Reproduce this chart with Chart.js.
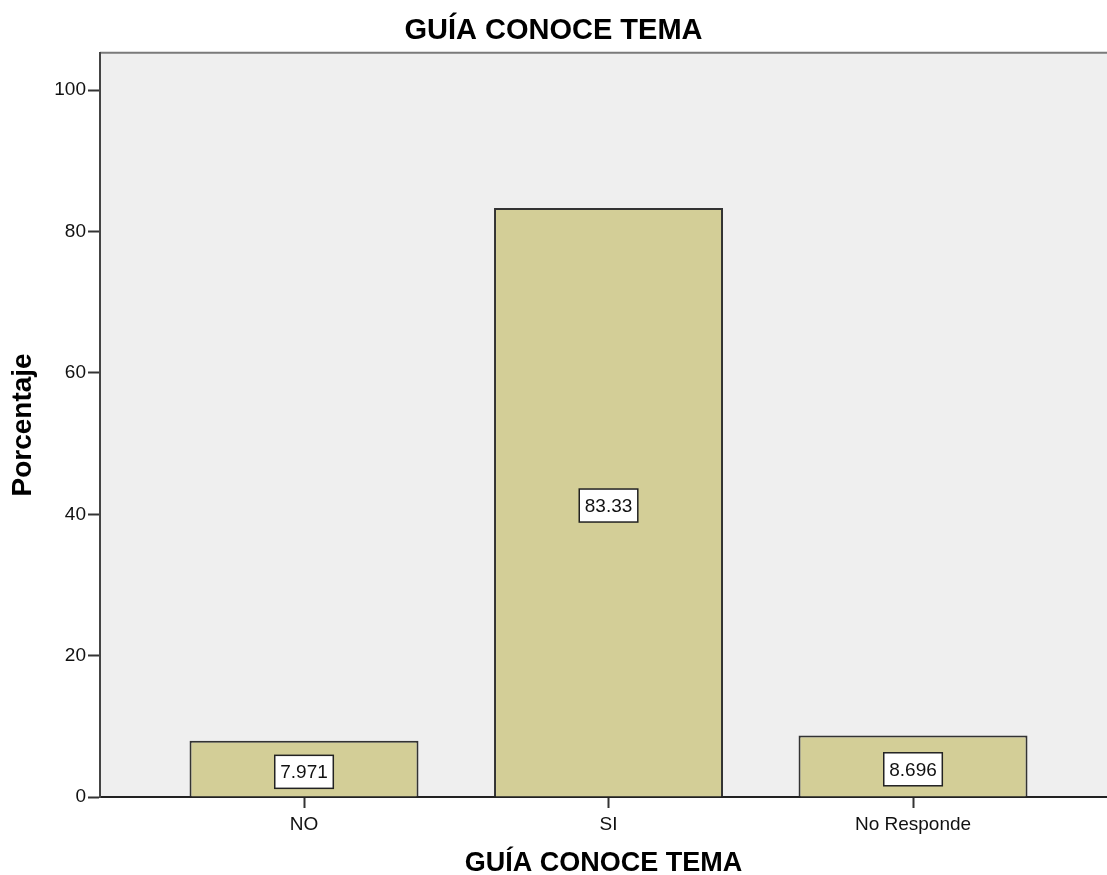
<!DOCTYPE html>
<html>
<head>
<meta charset="utf-8">
<script src="https://cdn.jsdelivr.net/npm/chart.js@4.4.1/dist/chart.umd.min.js"></script>
<style>
  html, body { margin: 0; padding: 0; background: #ffffff; overflow: hidden; }
  #wrap { width: 1107px; height: 875px; position: relative; }
</style>
</head>
<body>
<div id="wrap"><canvas id="c" width="1107" height="875"></canvas></div>
<script>
const chartTitle = 'GUÍA CONOCE TEMA';
const xAxisTitle = 'GUÍA CONOCE TEMA';
const yAxisTitle = 'Porcentaje';
const categories = ['NO', 'SI', 'No Responde'];
const percentages = [7.971, 83.33, 8.696];
const valueLabels = ['7.971', '83.33', '8.696'];
const yTicks = [0, 20, 40, 60, 80, 100];

const FONT = "'Liberation Sans', Arial, Helvetica, sans-serif";

const points = percentages.map((v, i) => ({ x: i + 1, y: v }));

const plotBg = {
  id: 'plotBg',
  beforeDraw(chart) {
    const { ctx, chartArea: a } = chart;
    ctx.save();
    ctx.fillStyle = '#efefef';
    ctx.fillRect(a.left, a.top, a.right - a.left, a.bottom - a.top);
    ctx.strokeStyle = '#7a7a7a';
    ctx.lineWidth = 2;
    ctx.beginPath();
    ctx.moveTo(a.left, a.top);
    ctx.lineTo(a.right, a.top);
    ctx.stroke();
    ctx.restore();
  }
};

const boxLabels = {
  id: 'boxLabels',
  afterDatasetsDraw(chart) {
    const { ctx } = chart;
    const meta = chart.getDatasetMeta(0);
    const ys = chart.scales.y;
    ctx.save();
    ctx.font = '19px ' + FONT;
    ctx.textAlign = 'center';
    ctx.textBaseline = 'middle';
    meta.data.forEach((bar, i) => {
      const txt = valueLabels[i];
      const cy = ys.getPixelForValue(percentages[i] / 2) + 3;
      const w = ctx.measureText(txt).width + 11;
      const h = 33;
      ctx.fillStyle = '#ffffff';
      ctx.fillRect(bar.x - w / 2, cy - h / 2, w, h);
      ctx.strokeStyle = '#222222';
      ctx.lineWidth = 1.5;
      ctx.strokeRect(bar.x - w / 2, cy - h / 2, w, h);
      ctx.fillStyle = '#111111';
      ctx.fillText(txt, bar.x, cy + 1);
    });
    ctx.restore();
  }
};

new Chart(document.getElementById('c'), {
  type: 'bar',
  data: {
    datasets: [{
      data: points,
      backgroundColor: '#d3ce97',
      borderColor: '#333333',
      borderWidth: 2,
      barPercentage: 0.752,
      categoryPercentage: 1.0
    }]
  },
  options: {
    responsive: false,
    animation: false,
    devicePixelRatio: 1,
    layout: { padding: 0 },
    plugins: {
      legend: { display: false },
      tooltip: { enabled: false },
      title: {
        display: true,
        text: chartTitle,
        color: '#000000',
        font: { family: FONT, size: 29, weight: 'bold', lineHeight: 1.2 },
        padding: { top: 14, bottom: 4 }
      }
    },
    scales: {
      x: {
        type: 'linear',
        offset: false,
        min: 0.33,
        max: 3.637,
        z: 1,
        afterBuildTicks(scale) {
          scale.ticks = categories.map((c, i) => ({ value: i + 1 }));
        },
        afterFit(scale) { scale.height = 78; },
        ticks: {
          callback: (v) => categories[Math.round(v) - 1] || '',
          color: '#111111',
          font: { family: FONT, size: 19 },
          padding: 5,
          maxRotation: 0,
          autoSkip: false
        },
        grid: {
          offset: false,
          drawOnChartArea: false,
          drawTicks: true,
          tickLength: 11,
          tickWidth: 2,
          tickColor: '#333333'
        },
        border: { display: true, color: '#222222', width: 2 },
        title: {
          display: true,
          text: xAxisTitle,
          color: '#000000',
          font: { family: FONT, size: 27, weight: 'bold', lineHeight: 0.85 },
          padding: 0
        }
      },
      y: {
        min: 0,
        max: 105.3,
        z: 1,
        afterBuildTicks(scale) {
          scale.ticks = yTicks.map(v => ({ value: v }));
        },
        afterFit(scale) { scale.width = 100; },
        ticks: {
          color: '#111111',
          font: { family: FONT, size: 19 },
          padding: 2,
          includeBounds: false
        },
        grid: {
          drawOnChartArea: false,
          drawTicks: true,
          tickLength: 12,
          tickWidth: 2,
          tickColor: '#333333'
        },
        border: { display: true, color: '#444444', width: 2 },
        title: {
          display: true,
          text: yAxisTitle,
          color: '#000000',
          font: { family: FONT, size: 28, weight: 'bold', lineHeight: 1 },
          padding: { top: 9, bottom: 0 }
        }
      }
    }
  },
  plugins: [plotBg, boxLabels]
});
</script>
</body>
</html>
